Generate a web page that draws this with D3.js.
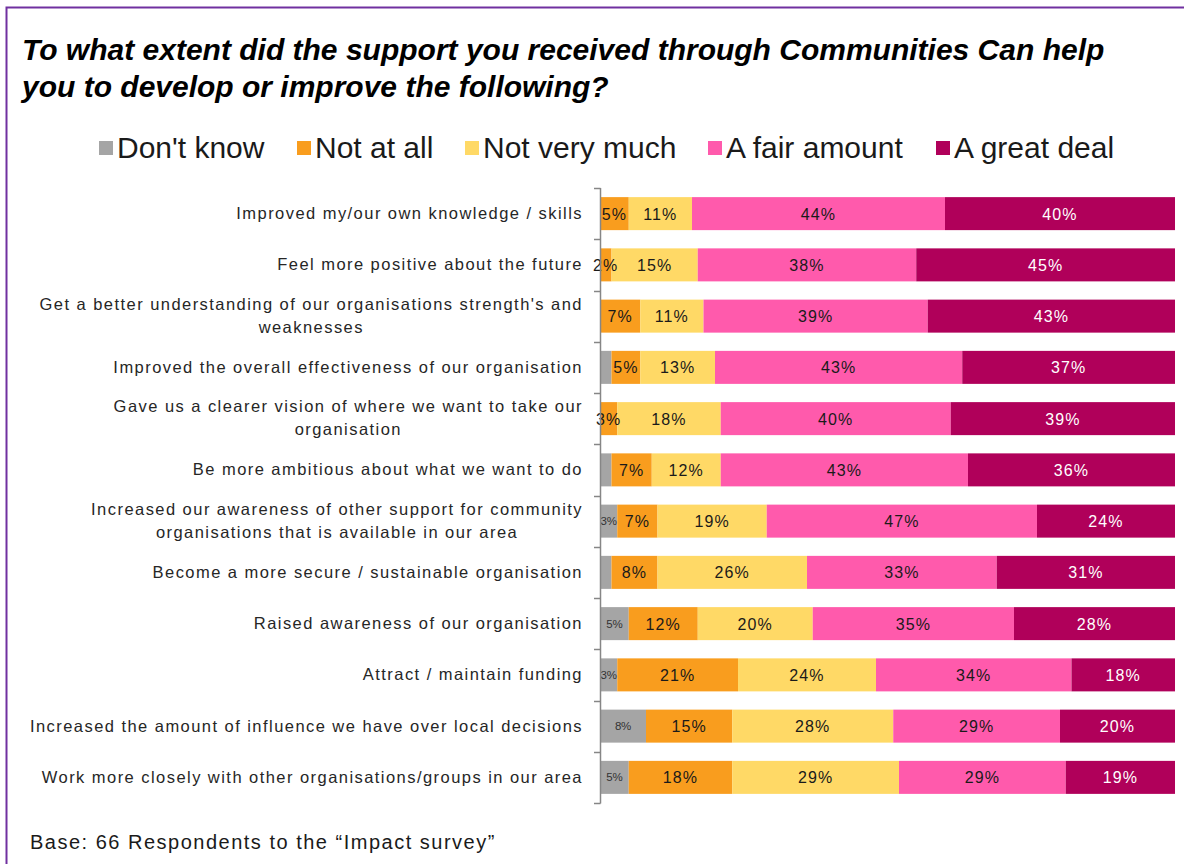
<!DOCTYPE html>
<html>
<head>
<meta charset="utf-8">
<script src="https://cdn.jsdelivr.net/npm/d3@7"></script>
<style>
  html, body { margin: 0; padding: 0; background: #fff; }
  svg { display: block; font-family: "Liberation Sans", Arial, sans-serif; }
</style>
</head>
<body>
<svg id="chart" width="1184" height="864"></svg>
<script>
// Survey items (each may be split into display lines)
const categories = [
  ["Improved my/our own knowledge / skills"],
  ["Feel more positive about the future"],
  ["Get a better understanding of our organisations strength's  and", "weaknesses"],
  ["Improved the overall effectiveness of our organisation"],
  ["Gave us a clearer vision of where we want to take our", "organisation"],
  ["Be more ambitious about what we want to do"],
  ["Increased our awareness of other support for community", "organisations that is available in our area"],
  ["Become a more secure / sustainable organisation"],
  ["Raised awareness of our organisation"],
  ["Attract / maintain funding"],
  ["Increased the amount of influence we have over local decisions"],
  ["Work more closely with other organisations/groups in our area"]
];

const seriesNames = ["Don't know", "Not at all", "Not very much", "A fair amount", "A great deal"];

// Percentages per item, in series order
const dontKnow    = [0, 0, 0, 2, 0, 2, 3, 2, 5, 3, 8, 5];
const notAtAll    = [5, 2, 7, 5, 3, 7, 7, 8, 12, 21, 15, 18];
const notVeryMuch = [11, 15, 11, 13, 18, 12, 19, 26, 20, 24, 28, 29];
const fairAmount  = [44, 38, 39, 43, 40, 43, 47, 33, 35, 34, 29, 29];
const greatDeal   = [40, 45, 43, 37, 39, 36, 24, 31, 28, 18, 20, 19];

const title = [
  "To what extent did the support you received through Communities Can help",
  "you to develop or improve the following?"
];
const baseNote = "Base: 66 Respondents to the \u201CImpact survey\u201D";

const colors = ["#A5A5A5", "#F99D1E", "#FFD966", "#FF5AAC", "#B0005A"];
const labelColors = ["#333333", "#1a1a1a", "#1a1a1a", "#1a1a1a", "#ffffff"];

const rows = categories.map((c, i) => ({
  key: String(i),
  lines: c,
  values: [dontKnow[i], notAtAll[i], notVeryMuch[i], fairAmount[i], greatDeal[i]]
}));

const svg = d3.select("#chart");

// outer frame
svg.append("rect")
  .attr("x", 6.5).attr("y", 7.5)
  .attr("width", 1200).attr("height", 900)
  .attr("fill", "none").attr("stroke", "#7030A0").attr("stroke-width", 2);

// title
svg.append("g").selectAll("text").data(title).join("text")
  .attr("x", 22).attr("y", (d, i) => 60 + i * 37)
  .attr("font-size", 30).attr("font-weight", "bold").attr("font-style", "italic")
  .attr("fill", "#000").text(d => d);

// legend
const legendX = [99, 297, 465, 708, 936];
const lg = svg.append("g").selectAll("g").data(seriesNames).join("g")
  .attr("transform", (d, i) => `translate(${legendX[i]},0)`);
lg.append("rect").attr("x", 0).attr("y", 141).attr("width", 14).attr("height", 14)
  .attr("fill", (d, i) => colors[i]);
lg.append("text").attr("x", 18).attr("y", 158)
  .attr("font-size", 30).attr("fill", "#1a1a1a").text(d => d);

// scales
const x = d3.scaleLinear().domain([0, 100]).range([600, 1175]);
const y = d3.scaleBand().domain(rows.map(r => r.key)).range([188, 803])
  .paddingInner(0.356).paddingOuter(0.178);

// stacked segments
const stackData = rows.map(r => {
  const o = { key: r.key };
  seriesNames.forEach((s, j) => o[s] = r.values[j]);
  return o;
});
const stacked = d3.stack().keys(seriesNames)(stackData);

const segG = svg.append("g").selectAll("g").data(stacked).join("g")
  .attr("fill", (d, i) => colors[i]);
segG.selectAll("rect").data(d => d.map(p => ({ p, key: d.key, idx: d.index })))
  .join("rect")
  .attr("x", d => x(d.p[0]))
  .attr("y", d => y(d.p.data.key))
  .attr("width", d => x(d.p[1]) - x(d.p[0]))
  .attr("height", y.bandwidth());

// value labels
const labG = svg.append("g");
stacked.forEach((layer, i) => {
  layer.forEach(p => {
    const v = p[1] - p[0];
    if (v <= 0 || (i === 0 && v < 3)) return;
    labG.append("text")
      .attr("x", (x(p[0]) + x(p[1])) / 2)
      .attr("y", y(p.data.key) + y.bandwidth() / 2 + (i === 0 ? 4 : 6))
      .attr("text-anchor", "middle")
      .attr("font-size", i === 0 ? 11.5 : 16)
      .attr("letter-spacing", i === 0 ? -0.3 : 1.1)
      .attr("fill", labelColors[i])
      .text(v + "%");
  });
});

// category axis
const ax = svg.append("g");
const edges = d3.range(rows.length + 1).map(i => 188 + i * y.step());
ax.append("line").attr("x1", 600.5).attr("x2", 600.5)
  .attr("y1", 188).attr("y2", 803.5).attr("stroke", "#868686").attr("stroke-width", 1.5);
ax.selectAll("line.tick").data(edges).join("line").attr("class", "tick")
  .attr("x1", 594).attr("x2", 600.5)
  .attr("y1", d => Math.round(d) + 0.5).attr("y2", d => Math.round(d) + 0.5)
  .attr("stroke", "#868686").attr("stroke-width", 1.5);

// category labels: single lines right-aligned, wrapped items centred on their widest line
const labelRight = 583;
rows.forEach(r => {
  const cy = y(r.key) + y.bandwidth() / 2;
  const g = svg.append("g");
  const texts = r.lines.map((line, k) => g.append("text")
    .attr("font-size", 16.5).attr("letter-spacing", 1.45)
    .attr("fill", "#262626").text(line));
  if (r.lines.length === 1) {
    texts[0].attr("x", labelRight).attr("y", cy + 5.5).attr("text-anchor", "end");
  } else {
    const w = Math.max(...texts.map(t => t.node().getComputedTextLength()));
    const mid = labelRight - w / 2;
    texts.forEach((t, k) => t.attr("x", mid).attr("text-anchor", "middle")
      .attr("y", cy - 6.5 + k * 23));
  }
});

// base note
svg.append("text").attr("x", 30).attr("y", 849)
  .attr("font-size", 20).attr("letter-spacing", 1.5)
  .attr("fill", "#1a1a1a").text(baseNote);
</script>
</body>
</html>
